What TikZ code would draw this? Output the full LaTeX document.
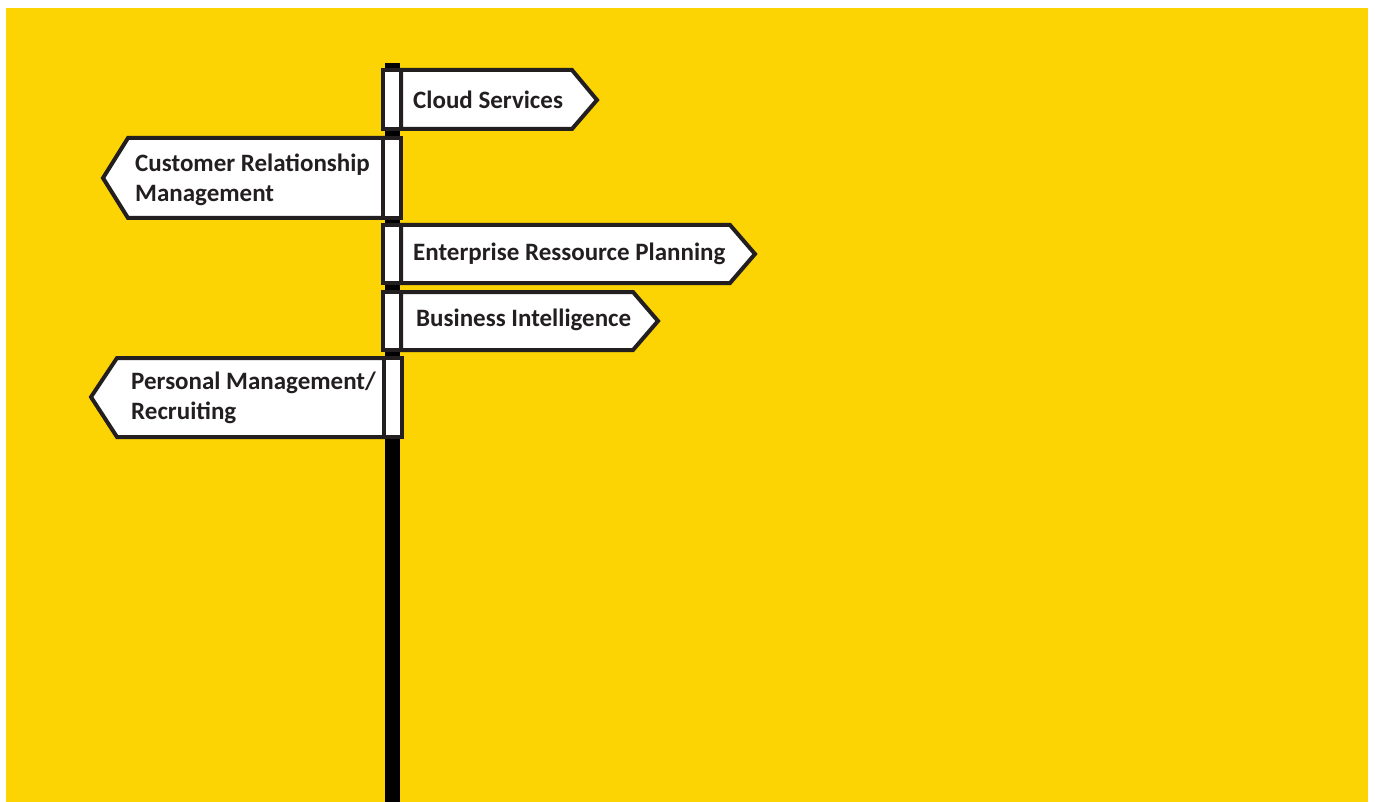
\documentclass[tikz,border=0pt]{standalone}
\usepackage{fontspec}
\setmainfont{Carlito}
\definecolor{bgyellow}{RGB}{252,211,3}
\definecolor{edge}{RGB}{35,31,32}
\begin{document}
\begin{tikzpicture}[x=1pt,y=-1pt,
  signbox/.style={draw=edge,fill=white,line width=4pt,line join=miter},
  label/.style={anchor=west,inner sep=0pt,align=left,font=\fontsize{25}{30}\selectfont\bfseries,text=edge}]
\useasboundingbox (0,0) rectangle (1375,802);
\fill[white] (0,0) rectangle (1375,802);
\fill[bgyellow] (6,8) rectangle (1368,802);
% pole
\fill[black] (385,63) rectangle (400,802);
% Cloud Services
\draw[signbox] (401,70) -- (572,70) -- (597,100) -- (572,129) -- (401,129) -- cycle;
\draw[signbox] (383,70) rectangle (401,129);
\node[label] (cloud) at (413,100) {Cloud Services};
% CRM
\draw[signbox] (383,138) -- (128,138) -- (103,178) -- (128,218) -- (383,218) -- cycle;
\draw[signbox] (383,138) rectangle (401,218);
\node[label] (crm) at (135,179.5) {Customer Relationship\\Management};
% ERP
\draw[signbox] (401,225) -- (730,225) -- (755,254) -- (730,283) -- (401,283) -- cycle;
\draw[signbox] (383,225) rectangle (401,283);
\node[label] (erp) at (413,254) {Enterprise Ressource Planning};
% BI
\draw[signbox] (401,292) -- (633,292) -- (658,321) -- (633,350) -- (401,350) -- cycle;
\draw[signbox] (383,292) rectangle (401,350);
\node[label] (bi) at (416,320) {Business Intelligence};
% PM
\draw[signbox] (384,358) -- (117,358) -- (91,397) -- (117,437) -- (384,437) -- cycle;
\draw[signbox] (384,358) rectangle (402,437);
\node[label] (pm) at (131,398) {Personal Management/\\Recruiting};
\end{tikzpicture}
\end{document}
